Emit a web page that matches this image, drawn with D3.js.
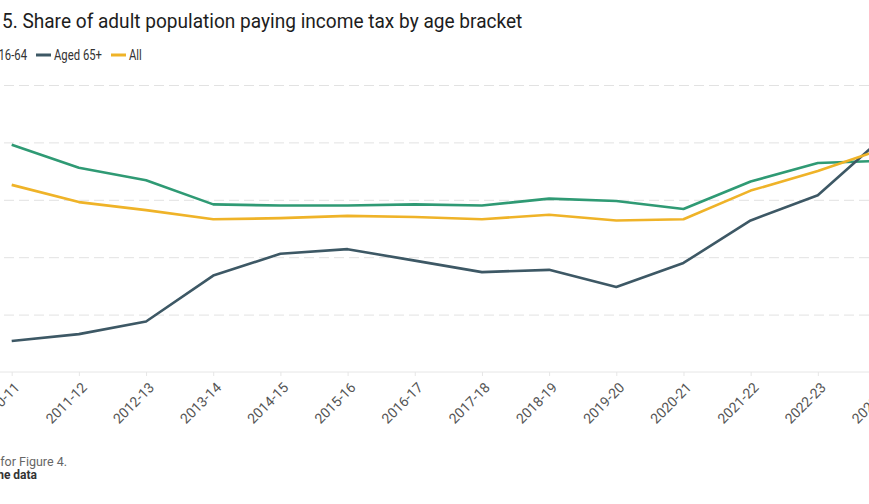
<!DOCTYPE html>
<html>
<head>
<meta charset="utf-8">
<script src="https://cdn.jsdelivr.net/npm/d3@7"></script>
<style>
  body { margin: 0; background: #fff; overflow: hidden; }
  svg { display: block; font-family: Roboto, "Noto Sans", sans-serif; }
</style>
</head>
<body>
<div class="chart"></div>
<script>
var years = ["2010-11", "2011-12", "2012-13", "2013-14", "2014-15", "2015-16", "2016-17",
             "2017-18", "2018-19", "2019-20", "2020-21", "2021-22", "2022-23", "2023-24"];

// share of adults paying income tax, %
var aged1664 = [59.8, 57.8, 56.7, 54.6, 54.5, 54.5, 54.6, 54.5, 55.1, 54.9, 54.2, 56.6, 58.2, 58.4];
var aged65 = [42.7, 43.3, 44.4, 48.4, 50.3, 50.7, 49.7, 48.7, 48.9, 47.4, 49.5, 53.2, 55.4, 60.6];
var allAdults = [56.3, 54.8, 54.1, 53.3, 53.4, 53.6, 53.5, 53.3, 53.7, 53.2, 53.3, 55.8, 57.5, 59.5];

var yTicks = [40, 45, 50, 55, 60, 65];

var series = [
    {name: "Aged 16-64", values: aged1664, color: "#2f9a74"},
    {name: "Aged 65+", values: aged65, color: "#3d5865"},
    {name: "All", values: allAdults, color: "#efb328"}
];

var width = 869, height = 504;

var svg = d3.select(".chart").append("svg")
    .attr("width", width)
    .attr("height", height);

var x = d3.scalePoint()
    .domain(years)
    .range([11.7, 885]);

var y = d3.scaleLinear()
    .domain([40, 65])
    .range([372, 85]);

function textWidth(str, size, weight) {
    var t = svg.append("text").style("font-size", size + "px")
        .style("font-weight", weight || "normal").text(str);
    var w = t.node().getComputedTextLength();
    t.remove();
    return w;
}

// title, slightly condensed; its first word sits left of the frame
var title = svg.append("text")
    .attr("fill", "#1d1d1d")
    .style("font-size", "21px");
var pre = title.append("tspan").text("Figure ");
var main = title.append("tspan").text("5. Share of adult population paying income tax by age bracket");
var tk = 521 / main.node().getComputedTextLength();
title.attr("x", -pre.node().getComputedTextLength())
    .attr("transform", "translate(2,28) scale(" + tk + ",1)");

// legend, laid out so that the first label ends at x = 27
var legend = svg.append("g");
var lk = 48 / textWidth("Aged 65+", 14);

series.forEach(function (s) {
    var g = legend.append("g");
    g.append("line")
        .attr("y1", 55).attr("y2", 55)
        .attr("stroke", s.color)
        .attr("stroke-width", 3);
    var t = g.append("text")
        .attr("fill", "#333")
        .style("font-size", "14px")
        .text(s.name);
    s.labelWidth = t.node().getComputedTextLength() * lk;
});
var cursor = 27 - series[0].labelWidth - 18;
legend.selectAll("g").each(function (d, i) {
    var s = series[i];
    var g = d3.select(this);
    g.select("line").attr("x1", cursor).attr("x2", cursor + 15);
    g.select("text").attr("transform", "translate(" + (cursor + 18) + ",60) scale(" + lk + ",1)");
    cursor += 18 + s.labelWidth + 9;
});

// gridlines
var grid = svg.append("g")
    .attr("transform", "translate(" + width + ",0)")
    .call(d3.axisLeft(y).tickValues(yTicks.slice(1)).tickSize(width + 20).tickFormat(""));
grid.select(".domain").remove();
grid.selectAll("line")
    .attr("stroke", "#e2e2e2")
    .attr("stroke-dasharray", "10,5");

// x axis
var xAxis = svg.append("g")
    .attr("transform", "translate(0,372)")
    .call(d3.axisBottom(x).tickSize(4));
xAxis.select(".domain").remove();
svg.append("line")
    .attr("x1", 0).attr("x2", width)
    .attr("y1", y(40)).attr("y2", y(40))
    .attr("stroke", "#e6e6e6")
    .attr("stroke-width", 1);
xAxis.selectAll(".tick line").attr("stroke", "#e6e6e6");
xAxis.selectAll(".tick text")
    .attr("fill", "#555")
    .style("font-size", "14px")
    .style("font-family", "Roboto, sans-serif")
    .attr("text-anchor", "end")
    .attr("x", 0)
    .attr("y", 0)
    .attr("dy", "0.35em")
    .attr("transform", "translate(5,13) rotate(-45)");

// lines
var line = d3.line()
    .x(function (d, i) { return x(years[i]); })
    .y(function (d) { return y(d); });

svg.append("g").selectAll("path")
    .data(series)
    .enter()
    .append("path")
    .attr("d", function (d) { return line(d.values); })
    .attr("fill", "none")
    .attr("stroke", function (d) { return d.color; })
    .attr("stroke-width", 2.6)
    .attr("stroke-linejoin", "round");

// footer
svg.append("text")
    .attr("x", 67).attr("y", 466)
    .attr("text-anchor", "end")
    .attr("fill", "#666")
    .style("font-size", "12.5px")
    .text("Notes: See notes for Figure 4.");
svg.append("text")
    .attr("x", 37).attr("y", 479)
    .attr("text-anchor", "end")
    .attr("fill", "#333")
    .style("font-size", "12px")
    .style("font-weight", "bold")
    .text("Get the data");
</script>
</body>
</html>
